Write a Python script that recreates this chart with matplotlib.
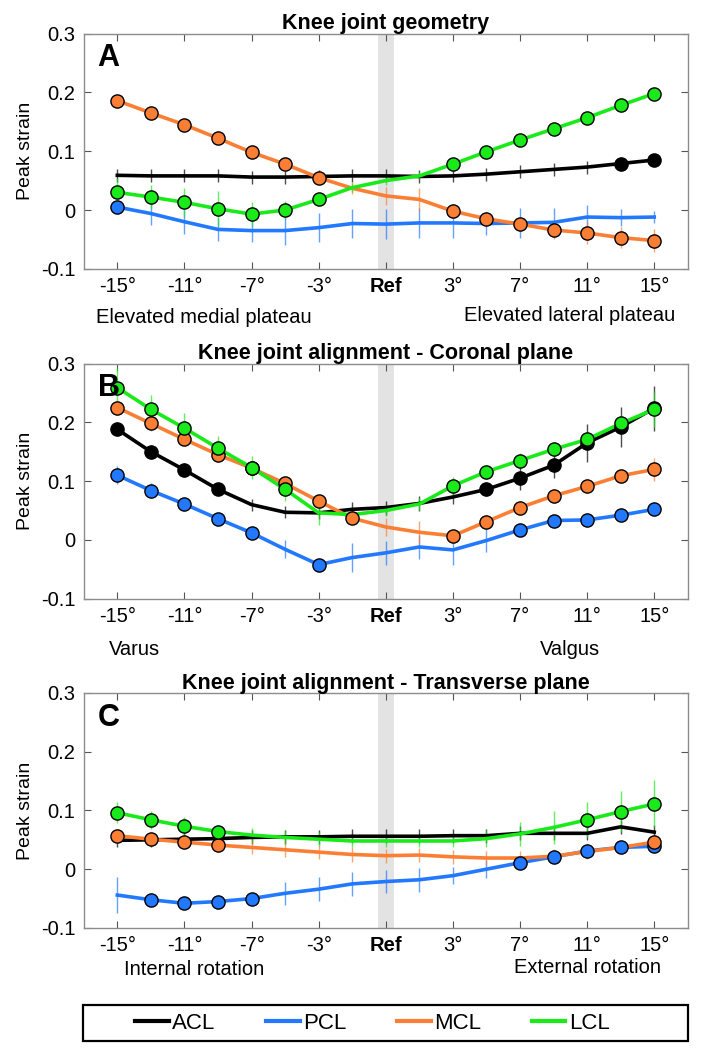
import numpy as np
import matplotlib
matplotlib.use("Agg")
import matplotlib.pyplot as plt
from matplotlib.patches import Rectangle

plt.rcParams['font.family'] = ['Liberation Sans', 'DejaVu Sans']

# conditions: -15..-1 deg, Ref, 1..15 deg (evenly spaced positions)
conditions = ['-15', '-13', '-11', '-9', '-7', '-5', '-3', '-1', 'Ref',
              '1', '3', '5', '7', '9', '11', '13', '15']
tick_labels = ['-15°', '-11°', '-7°', '-3°', 'Ref', '3°', '7°', '11°', '15°']

names = ['ACL', 'PCL', 'MCL', 'LCL']
colors = ['#000000', '#2279ff', '#fa7f35', '#1aea1a']

# ---- Panel A : knee joint geometry
a_acl = [0.059, 0.058, 0.058, 0.058, 0.056, 0.056, 0.057, 0.058, 0.058,
         0.057, 0.058, 0.061, 0.065, 0.069, 0.073, 0.079, 0.085]
a_pcl = [0.005, -0.006, -0.020, -0.033, -0.035, -0.035, -0.030, -0.023, -0.024,
         -0.022, -0.022, -0.023, -0.022, -0.021, -0.012, -0.013, -0.012]
a_mcl = [0.186, 0.165, 0.145, 0.122, 0.098, 0.078, 0.055, 0.037, 0.024,
         0.018, -0.002, -0.015, -0.024, -0.034, -0.039, -0.047, -0.052]
a_lcl = [0.030, 0.022, 0.013, 0.002, -0.007, 0.000, 0.018, 0.038, 0.050,
         0.058, 0.078, 0.099, 0.119, 0.138, 0.157, 0.178, 0.198]
a_acl_err = [0.011] * 17
a_pcl_err = [0.010, 0.020, 0.020, 0.020, 0.020, 0.025, 0.025, 0.025, 0.025,
             0.025, 0.025, 0.020, 0.025, 0.025, 0.020, 0.015, 0.010]
a_mcl_err = [0.008, 0.008, 0.008, 0.008, 0.008, 0.008, 0.010, 0.010, 0.015,
             0.020, 0.012, 0.012, 0.010, 0.015, 0.018, 0.018, 0.020]
a_lcl_err = [0.025, 0.020, 0.025, 0.030, 0.020, 0.015, 0.010, 0.008, 0.008,
             0.006, 0.006, 0.006, 0.006, 0.006, 0.006, 0.006, 0.006]
a_markers = [[15, 16], [0], [0, 1, 2, 3, 4, 5, 6, 10, 11, 12, 13, 14, 15, 16],
             [0, 1, 2, 3, 4, 5, 6, 10, 11, 12, 13, 14, 15, 16]]

# ---- Panel B : coronal alignment
b_acl = [0.188, 0.150, 0.119, 0.086, 0.060, 0.047, 0.046, 0.052, 0.055,
         0.062, 0.073, 0.086, 0.105, 0.127, 0.165, 0.192, 0.224]
b_pcl = [0.110, 0.084, 0.061, 0.036, 0.012, -0.016, -0.042, -0.030, -0.022,
         -0.012, -0.017, -0.001, 0.017, 0.033, 0.034, 0.042, 0.052]
b_mcl = [0.225, 0.198, 0.171, 0.145, 0.122, 0.096, 0.066, 0.037, 0.022,
         0.013, 0.007, 0.031, 0.055, 0.075, 0.091, 0.109, 0.120]
b_lcl = [0.259, 0.222, 0.190, 0.156, 0.123, 0.086, 0.046, 0.043, 0.050,
         0.061, 0.092, 0.116, 0.135, 0.154, 0.171, 0.198, 0.222]
b_acl_err = [0.012, 0.012, 0.012, 0.010, 0.010, 0.010, 0.010, 0.012, 0.012,
             0.012, 0.012, 0.012, 0.020, 0.022, 0.032, 0.034, 0.038]
b_pcl_err = [0.015, 0.012, 0.010, 0.010, 0.010, 0.015, 0.010, 0.025, 0.020,
             0.020, 0.025, 0.020, 0.010, 0.008, 0.008, 0.008, 0.008]
b_mcl_err = [0.012, 0.012, 0.012, 0.012, 0.010, 0.010, 0.010, 0.010, 0.015,
             0.020, 0.010, 0.012, 0.012, 0.012, 0.012, 0.012, 0.020]
b_lcl_err = [0.033, 0.025, 0.025, 0.020, 0.020, 0.020, 0.020, 0.010, 0.010,
             0.010, 0.015, 0.012, 0.012, 0.012, 0.012, 0.015, 0.030]
b_markers = [[0, 1, 2, 3, 11, 12, 13, 14, 15, 16],
             [0, 1, 2, 3, 4, 6, 12, 13, 14, 15, 16],
             [0, 1, 2, 3, 4, 5, 6, 7, 10, 11, 12, 13, 14, 15, 16],
             [0, 1, 2, 3, 4, 5, 10, 11, 12, 13, 14, 15, 16]]

# ---- Panel C : transverse alignment
c_acl = [0.049, 0.050, 0.051, 0.052, 0.054, 0.055, 0.055, 0.056, 0.056,
         0.056, 0.057, 0.057, 0.061, 0.061, 0.061, 0.072, 0.063]
c_pcl = [-0.044, -0.052, -0.058, -0.055, -0.050, -0.041, -0.034, -0.025, -0.021,
         -0.018, -0.011, 0.000, 0.011, 0.021, 0.031, 0.037, 0.039]
c_mcl = [0.057, 0.051, 0.046, 0.041, 0.037, 0.033, 0.029, 0.025, 0.023,
         0.024, 0.021, 0.019, 0.019, 0.022, 0.030, 0.037, 0.046]
c_lcl = [0.096, 0.084, 0.073, 0.064, 0.058, 0.054, 0.051, 0.048, 0.048,
         0.048, 0.048, 0.052, 0.060, 0.071, 0.084, 0.098, 0.111]
c_acl_err = [0.012] * 17
c_pcl_err = [0.030, 0.010, 0.010, 0.010, 0.010, 0.020, 0.020, 0.020, 0.020,
             0.020, 0.015, 0.015, 0.010, 0.010, 0.010, 0.010, 0.010]
c_mcl_err = [0.012] * 17
c_lcl_err = [0.018, 0.015, 0.015, 0.012, 0.012, 0.012, 0.012, 0.010, 0.010,
             0.010, 0.010, 0.015, 0.020, 0.028, 0.030, 0.035, 0.040]
c_markers = [[], [1, 2, 3, 4, 12, 13, 14, 15, 16], [0, 1, 2, 3, 16],
             [0, 1, 2, 3, 14, 15, 16]]

panels = [
    ('A', 'Knee joint geometry', [a_acl, a_pcl, a_mcl, a_lcl],
     [a_acl_err, a_pcl_err, a_mcl_err, a_lcl_err], a_markers,
     ('Elevated medial plateau', 2.57, -0.205), ('Elevated lateral plateau', 13.47, -0.2)),
    ('B', 'Knee joint alignment - Coronal plane', [b_acl, b_pcl, b_mcl, b_lcl],
     [b_acl_err, b_pcl_err, b_mcl_err, b_lcl_err], b_markers,
     ('Varus', 0.51, -0.218), ('Valgus', 13.5, -0.218)),
    ('C', 'Knee joint alignment - Transverse plane', [c_acl, c_pcl, c_mcl, c_lcl],
     [c_acl_err, c_pcl_err, c_mcl_err, c_lcl_err], c_markers,
     ('Internal rotation', 2.28, -0.178), ('External rotation', 14.0, -0.17)),
]

fig = plt.figure(figsize=(7.04, 10.5), dpi=100)
bottoms = [0.744, 0.4298, 0.1162]
x = np.arange(len(conditions))
ref_i = conditions.index('Ref')

for (letter, title, series, errs, marks, lab_l, lab_r), b in zip(panels, bottoms):
    ax = fig.add_axes([0.119, b, 0.858, 0.224])
    ax.axvspan(ref_i - 0.24, ref_i + 0.24, color='#e3e3e3', lw=0, zorder=0)
    for vals, err, mk, col, name in zip(series, errs, marks, colors, names):
        vals = np.array(vals)
        ax.errorbar(x, vals, yerr=err, fmt='none', ecolor=col, elinewidth=1.0,
                    alpha=0.7, zorder=2)
        ax.plot(x, vals, color=col, lw=2.6, label=name, zorder=3,
                solid_joinstyle='round')
        if mk:
            ax.plot(x[mk], vals[mk], 'o', ms=9.5, mfc=col, mec='black', mew=1.0,
                    zorder=4)
    ax.set_xlim(-1, 17)
    ax.set_ylim(-0.1, 0.3)
    ax.set_yticks([-0.1, 0, 0.1, 0.2, 0.3])
    ax.set_yticklabels(['-0.1', '0', '0.1', '0.2', '0.3'])
    ax.set_xticks(x[::2])
    ax.set_xticklabels(tick_labels)
    for t in ax.get_xticklabels():
        if t.get_text() == 'Ref':
            t.set_fontweight('bold')
    ax.tick_params(direction='in', top=True, right=True, length=5, width=0.8,
                   color='#555555', labelsize=14.5, pad=6)
    for s in ax.spines.values():
        s.set_color('#8c8c8c')
        s.set_linewidth(1.0)
    ax.set_ylabel('Peak strain', fontsize=14, labelpad=5)
    ax.set_title(title, fontsize=15.5, fontweight='bold', pad=3)
    ax.text(0.023, 0.958, letter, transform=ax.transAxes, fontsize=22,
            fontweight='bold', ha='left', va='top', zorder=5)
    trans = ax.get_xaxis_transform()
    ax.text(lab_l[1], lab_l[2], lab_l[0], transform=trans, fontsize=14.5,
            ha='center', va='center')
    ax.text(lab_r[1], lab_r[2], lab_r[0], transform=trans, fontsize=14.5,
            ha='center', va='center')

# legend box drawn separately, entries centred inside it
W, H = 704.0, 1050.0
fig.patches.append(Rectangle((83 / W, 1 - 1041 / H), (688 - 83) / W, 36 / H,
                             transform=fig.transFigure, fill=False,
                             edgecolor='black', lw=1.6))
handles, labels = ax.get_legend_handles_labels()
leg = fig.legend(handles, labels, ncol=4, loc='center',
                 bbox_to_anchor=(0.529, 0.0257), fontsize=16, frameon=False,
                 handlelength=1.5, handletextpad=0.15, columnspacing=2.3)
for line in leg.get_lines():
    line.set_linewidth(3)

fig.savefig('out.png', dpi=100)
